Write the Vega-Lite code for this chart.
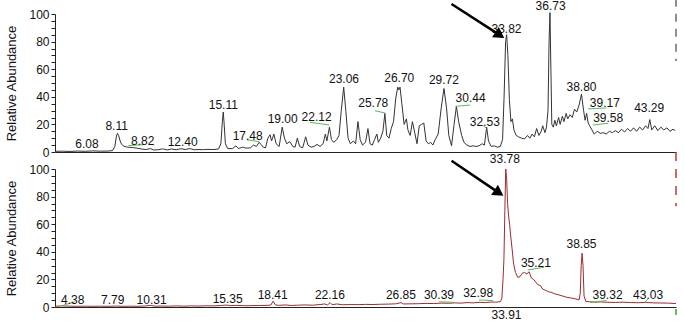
{
  "$schema": "https://vega.github.io/schema/vega-lite/v6.json",
  "padding": {"left": 5, "top": -2, "right": 5, "bottom": 5},
  "spacing": 17,
  "bounds": "flush",
  "config": {
    "view": {"stroke": null},
    "font": "Liberation Sans",
    "text": {"font": "Liberation Sans"}
  },
  "datasets": {
    "trace": [
      {"panel":"A","t":4.0,"v":0.5},{"panel":"A","t":4.5,"v":0.6},{"panel":"A","t":5.0,"v":0.4},{"panel":"A","t":5.5,"v":0.7},{"panel":"A","t":6.0,"v":0.5},{"panel":"A","t":6.5,"v":0.8},{"panel":"A","t":7.0,"v":0.6},{"panel":"A","t":7.5,"v":0.7},{"panel":"A","t":7.8,"v":1.0},{"panel":"A","t":7.95,"v":4},{"panel":"A","t":8.05,"v":11},{"panel":"A","t":8.12,"v":13.5},{"panel":"A","t":8.2,"v":12},{"panel":"A","t":8.3,"v":8},{"panel":"A","t":8.4,"v":5.5},{"panel":"A","t":8.55,"v":4.2},{"panel":"A","t":8.8,"v":3.5},{"panel":"A","t":9.1,"v":3.2},{"panel":"A","t":9.4,"v":2.8},{"panel":"A","t":9.7,"v":2.2},{"panel":"A","t":10.0,"v":1.8},{"panel":"A","t":10.3,"v":2.5},{"panel":"A","t":10.5,"v":1.5},{"panel":"A","t":10.8,"v":1.6},{"panel":"A","t":11.1,"v":2.3},{"panel":"A","t":11.4,"v":1.5},{"panel":"A","t":11.7,"v":2.2},{"panel":"A","t":12.0,"v":1.6},{"panel":"A","t":12.3,"v":2.4},{"panel":"A","t":12.6,"v":1.8},{"panel":"A","t":12.9,"v":2.5},{"panel":"A","t":13.2,"v":1.6},{"panel":"A","t":13.5,"v":1.8},{"panel":"A","t":13.8,"v":1.7},{"panel":"A","t":14.1,"v":1.9},{"panel":"A","t":14.5,"v":1.8},{"panel":"A","t":14.8,"v":2.2},{"panel":"A","t":14.95,"v":6},{"panel":"A","t":15.05,"v":22},{"panel":"A","t":15.11,"v":29},{"panel":"A","t":15.17,"v":20},{"panel":"A","t":15.25,"v":6},{"panel":"A","t":15.4,"v":2.5},{"panel":"A","t":15.7,"v":2.4},{"panel":"A","t":15.95,"v":4.5},{"panel":"A","t":16.1,"v":2.5},{"panel":"A","t":16.4,"v":3.5},{"panel":"A","t":16.6,"v":2.8},{"panel":"A","t":16.9,"v":3.0},{"panel":"A","t":17.1,"v":5.0},{"panel":"A","t":17.3,"v":4.0},{"panel":"A","t":17.48,"v":7.0},{"panel":"A","t":17.6,"v":5.5},{"panel":"A","t":17.75,"v":3.5},{"panel":"A","t":17.9,"v":3.0},{"panel":"A","t":18.05,"v":10},{"panel":"A","t":18.2,"v":12.5},{"panel":"A","t":18.3,"v":8},{"panel":"A","t":18.45,"v":13},{"panel":"A","t":18.6,"v":6},{"panel":"A","t":18.8,"v":4},{"panel":"A","t":19.0,"v":18},{"panel":"A","t":19.15,"v":10},{"panel":"A","t":19.3,"v":6},{"panel":"A","t":19.5,"v":7.5},{"panel":"A","t":19.7,"v":4},{"panel":"A","t":19.85,"v":3.5},{"panel":"A","t":20.0,"v":10},{"panel":"A","t":20.15,"v":4},{"panel":"A","t":20.35,"v":3},{"panel":"A","t":20.55,"v":11},{"panel":"A","t":20.7,"v":5},{"panel":"A","t":20.9,"v":3.5},{"panel":"A","t":21.1,"v":4},{"panel":"A","t":21.3,"v":5.5},{"panel":"A","t":21.5,"v":4},{"panel":"A","t":21.7,"v":6},{"panel":"A","t":21.85,"v":13},{"panel":"A","t":21.95,"v":8},{"panel":"A","t":22.12,"v":18},{"panel":"A","t":22.25,"v":9},{"panel":"A","t":22.4,"v":7},{"panel":"A","t":22.6,"v":9},{"panel":"A","t":22.75,"v":12},{"panel":"A","t":22.9,"v":30},{"panel":"A","t":23.06,"v":47},{"panel":"A","t":23.2,"v":30},{"panel":"A","t":23.35,"v":10},{"panel":"A","t":23.5,"v":6},{"panel":"A","t":23.7,"v":8},{"panel":"A","t":23.85,"v":6},{"panel":"A","t":24.0,"v":22},{"panel":"A","t":24.15,"v":9},{"panel":"A","t":24.3,"v":5},{"panel":"A","t":24.5,"v":7},{"panel":"A","t":24.66,"v":17},{"panel":"A","t":24.8,"v":6},{"panel":"A","t":24.95,"v":5},{"panel":"A","t":25.1,"v":9},{"panel":"A","t":25.25,"v":13},{"panel":"A","t":25.35,"v":7},{"panel":"A","t":25.5,"v":10},{"panel":"A","t":25.65,"v":15},{"panel":"A","t":25.78,"v":28},{"panel":"A","t":25.9,"v":12},{"panel":"A","t":26.05,"v":10},{"panel":"A","t":26.2,"v":17},{"panel":"A","t":26.35,"v":22},{"panel":"A","t":26.5,"v":39},{"panel":"A","t":26.63,"v":47},{"panel":"A","t":26.7,"v":45},{"panel":"A","t":26.78,"v":47},{"panel":"A","t":26.9,"v":35},{"panel":"A","t":27.05,"v":20},{"panel":"A","t":27.2,"v":24},{"panel":"A","t":27.3,"v":16},{"panel":"A","t":27.45,"v":12},{"panel":"A","t":27.6,"v":22},{"panel":"A","t":27.75,"v":14},{"panel":"A","t":27.9,"v":6},{"panel":"A","t":28.05,"v":19},{"panel":"A","t":28.2,"v":20},{"panel":"A","t":28.35,"v":21},{"panel":"A","t":28.5,"v":8},{"panel":"A","t":28.65,"v":6},{"panel":"A","t":28.8,"v":7},{"panel":"A","t":28.95,"v":5},{"panel":"A","t":29.1,"v":9},{"panel":"A","t":29.3,"v":13},{"panel":"A","t":29.5,"v":32},{"panel":"A","t":29.68,"v":46},{"panel":"A","t":29.85,"v":32},{"panel":"A","t":30.0,"v":12},{"panel":"A","t":30.18,"v":4.5},{"panel":"A","t":30.35,"v":20},{"panel":"A","t":30.5,"v":33},{"panel":"A","t":30.65,"v":22},{"panel":"A","t":30.85,"v":12},{"panel":"A","t":31.0,"v":7},{"panel":"A","t":31.2,"v":5},{"panel":"A","t":31.4,"v":4},{"panel":"A","t":31.6,"v":4.5},{"panel":"A","t":31.8,"v":4},{"panel":"A","t":32.0,"v":4.5},{"panel":"A","t":32.2,"v":6},{"panel":"A","t":32.35,"v":5},{"panel":"A","t":32.5,"v":18},{"panel":"A","t":32.62,"v":8},{"panel":"A","t":32.8,"v":4},{"panel":"A","t":33.0,"v":4.5},{"panel":"A","t":33.2,"v":3.5},{"panel":"A","t":33.4,"v":4},{"panel":"A","t":33.55,"v":9},{"panel":"A","t":33.65,"v":40},{"panel":"A","t":33.75,"v":80},{"panel":"A","t":33.82,"v":85},{"panel":"A","t":33.9,"v":70},{"panel":"A","t":34.0,"v":38},{"panel":"A","t":34.1,"v":22},{"panel":"A","t":34.2,"v":24},{"panel":"A","t":34.3,"v":16},{"panel":"A","t":34.45,"v":12},{"panel":"A","t":34.6,"v":11},{"panel":"A","t":34.8,"v":10},{"panel":"A","t":35.0,"v":9.5},{"panel":"A","t":35.2,"v":12},{"panel":"A","t":35.35,"v":10},{"panel":"A","t":35.5,"v":13},{"panel":"A","t":35.65,"v":11},{"panel":"A","t":35.8,"v":17},{"panel":"A","t":35.95,"v":12},{"panel":"A","t":36.1,"v":15},{"panel":"A","t":36.2,"v":19},{"panel":"A","t":36.35,"v":14},{"panel":"A","t":36.45,"v":18},{"panel":"A","t":36.55,"v":30},{"panel":"A","t":36.62,"v":80},{"panel":"A","t":36.68,"v":101},{"panel":"A","t":36.74,"v":60},{"panel":"A","t":36.8,"v":20},{"panel":"A","t":36.9,"v":18},{"panel":"A","t":37.0,"v":23},{"panel":"A","t":37.1,"v":19},{"panel":"A","t":37.25,"v":25},{"panel":"A","t":37.35,"v":20},{"panel":"A","t":37.5,"v":26},{"panel":"A","t":37.6,"v":22},{"panel":"A","t":37.75,"v":28},{"panel":"A","t":37.85,"v":24},{"panel":"A","t":38.0,"v":27},{"panel":"A","t":38.15,"v":25},{"panel":"A","t":38.3,"v":31},{"panel":"A","t":38.45,"v":29},{"panel":"A","t":38.6,"v":34},{"panel":"A","t":38.76,"v":42},{"panel":"A","t":38.9,"v":30},{"panel":"A","t":39.0,"v":23},{"panel":"A","t":39.1,"v":28},{"panel":"A","t":39.2,"v":21},{"panel":"A","t":39.3,"v":19},{"panel":"A","t":39.45,"v":16},{"panel":"A","t":39.6,"v":13},{"panel":"A","t":39.8,"v":15},{"panel":"A","t":40.0,"v":13.5},{"panel":"A","t":40.2,"v":14},{"panel":"A","t":40.4,"v":13},{"panel":"A","t":40.6,"v":15},{"panel":"A","t":40.8,"v":14},{"panel":"A","t":41.0,"v":15.5},{"panel":"A","t":41.2,"v":14},{"panel":"A","t":41.4,"v":16.5},{"panel":"A","t":41.6,"v":14.5},{"panel":"A","t":41.8,"v":17},{"panel":"A","t":42.0,"v":15},{"panel":"A","t":42.2,"v":17.5},{"panel":"A","t":42.4,"v":15},{"panel":"A","t":42.6,"v":18},{"panel":"A","t":42.8,"v":16},{"panel":"A","t":43.0,"v":19},{"panel":"A","t":43.15,"v":17},{"panel":"A","t":43.27,"v":23.5},{"panel":"A","t":43.4,"v":16},{"panel":"A","t":43.6,"v":19},{"panel":"A","t":43.8,"v":15.5},{"panel":"A","t":44.0,"v":18},{"panel":"A","t":44.2,"v":16},{"panel":"A","t":44.4,"v":17.5},{"panel":"A","t":44.6,"v":15},{"panel":"A","t":44.8,"v":16.5},{"panel":"A","t":44.95,"v":15.5},
      {"panel":"B","t":4.0,"v":0.5},{"panel":"B","t":4.4,"v":0.8},{"panel":"B","t":5.0,"v":0.6},{"panel":"B","t":5.5,"v":0.5},{"panel":"B","t":6.0,"v":0.6},{"panel":"B","t":6.5,"v":0.5},{"panel":"B","t":7.0,"v":0.6},{"panel":"B","t":7.5,"v":0.5},{"panel":"B","t":8.0,"v":0.7},{"panel":"B","t":8.5,"v":0.5},{"panel":"B","t":9.0,"v":0.6},{"panel":"B","t":9.5,"v":0.5},{"panel":"B","t":10.0,"v":0.8},{"panel":"B","t":10.3,"v":1.2},{"panel":"B","t":10.6,"v":0.6},{"panel":"B","t":11.0,"v":0.7},{"panel":"B","t":11.5,"v":0.6},{"panel":"B","t":12.0,"v":0.8},{"panel":"B","t":12.5,"v":0.6},{"panel":"B","t":13.0,"v":0.8},{"panel":"B","t":13.5,"v":0.7},{"panel":"B","t":14.0,"v":0.9},{"panel":"B","t":14.5,"v":0.8},{"panel":"B","t":15.0,"v":1.1},{"panel":"B","t":15.3,"v":1.4},{"panel":"B","t":15.6,"v":1.0},{"panel":"B","t":16.0,"v":1.2},{"panel":"B","t":16.5,"v":0.9},{"panel":"B","t":17.0,"v":1.0},{"panel":"B","t":17.5,"v":1.1},{"panel":"B","t":18.0,"v":1.2},{"panel":"B","t":18.25,"v":1.4},{"panel":"B","t":18.4,"v":4.2},{"panel":"B","t":18.55,"v":1.5},{"panel":"B","t":18.8,"v":1.2},{"panel":"B","t":19.2,"v":1.5},{"panel":"B","t":19.6,"v":1.1},{"panel":"B","t":20.0,"v":1.3},{"panel":"B","t":20.5,"v":1.5},{"panel":"B","t":21.0,"v":1.3},{"panel":"B","t":21.5,"v":1.8},{"panel":"B","t":21.8,"v":2.2},{"panel":"B","t":22.0,"v":1.5},{"panel":"B","t":22.16,"v":3.2},{"panel":"B","t":22.3,"v":1.6},{"panel":"B","t":22.6,"v":2.2},{"panel":"B","t":23.0,"v":1.6},{"panel":"B","t":23.5,"v":1.8},{"panel":"B","t":24.0,"v":1.7},{"panel":"B","t":24.5,"v":1.9},{"panel":"B","t":25.0,"v":1.8},{"panel":"B","t":25.5,"v":2.0},{"panel":"B","t":26.0,"v":2.1},{"panel":"B","t":26.5,"v":2.3},{"panel":"B","t":26.85,"v":3.2},{"panel":"B","t":27.0,"v":2.2},{"panel":"B","t":27.5,"v":2.3},{"panel":"B","t":28.0,"v":2.4},{"panel":"B","t":28.5,"v":2.6},{"panel":"B","t":29.0,"v":2.5},{"panel":"B","t":29.5,"v":2.8},{"panel":"B","t":30.0,"v":2.7},{"panel":"B","t":30.4,"v":3.0},{"panel":"B","t":30.8,"v":2.8},{"panel":"B","t":31.2,"v":3.2},{"panel":"B","t":31.6,"v":3.0},{"panel":"B","t":32.0,"v":3.4},{"panel":"B","t":32.4,"v":3.2},{"panel":"B","t":32.8,"v":3.6},{"panel":"B","t":33.1,"v":3.5},{"panel":"B","t":33.4,"v":3.8},{"panel":"B","t":33.5,"v":6},{"panel":"B","t":33.58,"v":20},{"panel":"B","t":33.64,"v":35},{"panel":"B","t":33.7,"v":70},{"panel":"B","t":33.76,"v":100},{"panel":"B","t":33.82,"v":93},{"panel":"B","t":33.88,"v":75},{"panel":"B","t":33.95,"v":66},{"panel":"B","t":34.02,"v":59},{"panel":"B","t":34.1,"v":50},{"panel":"B","t":34.18,"v":42},{"panel":"B","t":34.27,"v":32},{"panel":"B","t":34.4,"v":25},{"panel":"B","t":34.55,"v":21.5},{"panel":"B","t":34.7,"v":22},{"panel":"B","t":34.85,"v":24.5},{"panel":"B","t":35.0,"v":25},{"panel":"B","t":35.15,"v":24},{"panel":"B","t":35.3,"v":25.5},{"panel":"B","t":35.45,"v":21},{"panel":"B","t":35.6,"v":20},{"panel":"B","t":35.75,"v":18},{"panel":"B","t":35.9,"v":16},{"panel":"B","t":36.05,"v":15.5},{"panel":"B","t":36.2,"v":13},{"panel":"B","t":36.4,"v":12},{"panel":"B","t":36.6,"v":11},{"panel":"B","t":36.8,"v":10.5},{"panel":"B","t":37.0,"v":9.5},{"panel":"B","t":37.2,"v":9},{"panel":"B","t":37.5,"v":8},{"panel":"B","t":37.8,"v":7},{"panel":"B","t":38.1,"v":6.5},{"panel":"B","t":38.4,"v":5.8},{"panel":"B","t":38.6,"v":5.2},{"panel":"B","t":38.68,"v":10},{"panel":"B","t":38.74,"v":30},{"panel":"B","t":38.8,"v":39},{"panel":"B","t":38.86,"v":30},{"panel":"B","t":38.93,"v":8},{"panel":"B","t":39.05,"v":4},{"panel":"B","t":39.3,"v":3.8},{"panel":"B","t":39.6,"v":3.5},{"panel":"B","t":40.0,"v":3.7},{"panel":"B","t":40.5,"v":3.4},{"panel":"B","t":41.0,"v":3.3},{"panel":"B","t":41.5,"v":3.5},{"panel":"B","t":42.0,"v":3.2},{"panel":"B","t":42.5,"v":3.1},{"panel":"B","t":43.0,"v":3.3},{"panel":"B","t":43.5,"v":3.0},{"panel":"B","t":44.0,"v":2.9},{"panel":"B","t":44.5,"v":2.8},{"panel":"B","t":45.0,"v":2.5}
    ],
    "labels": [
      {"panel":"A","label":"6.08","t":6.11,"v":2.9},
      {"panel":"A","label":"8.11","t":8.07,"v":16.2},
      {"panel":"A","label":"8.82","t":9.79,"v":5.3},
      {"panel":"A","label":"12.40","t":12.43,"v":4.3},
      {"panel":"A","label":"15.11","t":15.11,"v":31.2},
      {"panel":"A","label":"17.48","t":16.72,"v":8.9},
      {"panel":"A","label":"19.00","t":19.03,"v":21},
      {"panel":"A","label":"22.12","t":21.27,"v":22.2},
      {"panel":"A","label":"23.06","t":23.08,"v":50},
      {"panel":"A","label":"25.78","t":25.01,"v":32.4},
      {"panel":"A","label":"26.70","t":26.73,"v":50.5},
      {"panel":"A","label":"29.72","t":29.68,"v":49.3},
      {"panel":"A","label":"30.44","t":31.44,"v":36},
      {"panel":"A","label":"32.53","t":32.38,"v":19},
      {"panel":"A","label":"33.82","t":33.81,"v":86},
      {"panel":"A","label":"36.73","t":36.72,"v":103},
      {"panel":"A","label":"38.80","t":38.76,"v":44.4},
      {"panel":"A","label":"39.17","t":40.3,"v":32.4},
      {"panel":"A","label":"39.58","t":40.52,"v":22},
      {"panel":"A","label":"43.29","t":43.23,"v":28.8},
      {"panel":"B","label":"4.38","t":5.17,"v":2.2},
      {"panel":"B","label":"7.79","t":7.81,"v":2.2},
      {"panel":"B","label":"10.31","t":10.38,"v":2.2},
      {"panel":"B","label":"15.35","t":15.4,"v":2.7},
      {"panel":"B","label":"18.41","t":18.37,"v":5.8},
      {"panel":"B","label":"22.16","t":22.15,"v":5.8},
      {"panel":"B","label":"26.85","t":26.84,"v":5.8},
      {"panel":"B","label":"30.39","t":29.35,"v":5.8},
      {"panel":"B","label":"32.98","t":31.94,"v":7},
      {"panel":"B","label":"33.78","t":33.7,"v":104},
      {"panel":"B","label":"35.21","t":35.75,"v":28.7},
      {"panel":"B","label":"38.85","t":38.76,"v":42.5},
      {"panel":"B","label":"39.32","t":40.48,"v":5.8},
      {"panel":"B","label":"43.03","t":43.16,"v":5.8},
      {"panel":"B","label":"33.91","t":33.81,"v":-8.7}
    ],
    "greens": [
      {"panel":"A","t":8.84,"v":4.6,"t2":9.83,"v2":5.3},
      {"panel":"A","t":16.65,"v":8.9,"t2":17.49,"v2":7.5},
      {"panel":"A","t":20.83,"v":21.5,"t2":22.1,"v2":19.6},
      {"panel":"A","t":25.12,"v":29.9,"t2":25.78,"v2":28.3},
      {"panel":"A","t":30.45,"v":33.1,"t2":31.4,"v2":34},
      {"panel":"A","t":32.27,"v":19,"t2":32.49,"v2":17.2},
      {"panel":"A","t":39.2,"v":31.2,"t2":40.41,"v2":31.9},
      {"panel":"A","t":39.53,"v":19.6,"t2":40.52,"v2":20.8},
      {"panel":"B","t":4.44,"v":0.9,"t2":5.32,"v2":3.8},
      {"panel":"B","t":29.35,"v":3.8,"t2":30.36,"v2":3.4},
      {"panel":"B","t":31.99,"v":5.1,"t2":32.93,"v2":4.6},
      {"panel":"B","t":35.2,"v":26.8,"t2":36.3,"v2":28.8},
      {"panel":"B","t":39.31,"v":3.4,"t2":40.41,"v2":4.6},
      {"panel":"B","t":42.94,"v":3.4,"t2":43.16,"v2":5.8}
    ],
    "arrows": [
      {"panel":"A","t":30.18,"v":107.2,"t2":33.37,"v2":84.7},
      {"panel":"B","t":30.18,"v":106,"t2":33.31,"v2":82.7}
    ],
    "markers": [
      {"panel":"A","kind":"gray","t":45,"v":111,"t2":45,"v2":66},
      {"panel":"B","kind":"red","t":45,"v":112.3,"t2":45,"v2":73},
      {"panel":"B","kind":"green","t":45,"v":-1.5,"t2":45,"v2":-5.8}
    ]
  },
  "vconcat": [
    {
      "width": 621,
      "height": 138,
      "encoding": {
        "x": {"field": "t", "type": "quantitative", "scale": {"domain": [4, 45], "nice": false, "zero": false},
              "axis": {"labels": false, "ticks": false, "grid": false, "title": null, "domainColor": "#222", "domainWidth": 1.2}},
        "y": {"field": "v", "type": "quantitative", "scale": {"domain": [0, 100], "nice": false},
              "axis": {"values": [0,5,10,15,20,25,30,35,40,45,50,55,60,65,70,75,80,85,90,95,100],
                       "labelExpr": "datum.value % 20 === 0 ? datum.label : ''", "labelOverlap": false,
                       "tickSize": 4, "tickColor": "#222", "domainColor": "#222", "labelFontSize": 12, "labelFont": "Liberation Sans",
                       "labelColor": "#111", "labelPadding": 2, "grid": false, "title": "Relative Abundance",
                       "titleFontSize": 13, "titleFont": "Liberation Sans", "titleFontWeight": "normal", "titleColor": "#111", "titlePadding": 10}}
      },
      "layer": [
        {"data": {"name": "trace"}, "transform": [{"filter": "datum.panel === 'A'"}],
         "mark": {"type": "line", "color": "#333333", "strokeWidth": 1}},
        {"data": {"name": "greens"}, "transform": [{"filter": "datum.panel === 'A'"}],
         "mark": {"type": "rule", "color": "#5cb85c", "strokeWidth": 1},
         "encoding": {"x2": {"field": "t2"}, "y2": {"field": "v2"}}},
        {"data": {"name": "labels"}, "transform": [{"filter": "datum.panel === 'A'"}],
         "mark": {"type": "text", "fontSize": 12, "font": "Liberation Sans", "color": "#111", "align": "center", "baseline": "alphabetic"},
         "encoding": {"text": {"field": "label"}}},
        {"data": {"name": "arrows"}, "transform": [{"filter": "datum.panel === 'A'"}],
         "mark": {"type": "rule", "color": "#000", "strokeWidth": 2.5},
         "encoding": {"x2": {"field": "t2"}, "y2": {"field": "v2"}}},
        {"data": {"name": "arrows"}, "transform": [{"filter": "datum.panel === 'A'"}],
         "mark": {"type": "point", "shape": "triangle-right", "filled": true, "color": "#000", "size": 150, "angle": 33, "opacity": 1},
         "encoding": {"x": {"field": "t2", "type": "quantitative"}, "y": {"field": "v2", "type": "quantitative"}}},
        {"data": {"name": "markers"}, "transform": [{"filter": "datum.kind === 'gray'"}],
         "mark": {"type": "rule", "color": "#6b6b5e", "strokeWidth": 1.5, "strokeDash": [8, 7]},
         "encoding": {"x2": {"field": "t2"}, "y2": {"field": "v2"}}}
      ]
    },
    {
      "width": 621,
      "height": 138,
      "encoding": {
        "x": {"field": "t", "type": "quantitative", "scale": {"domain": [4, 45], "nice": false, "zero": false},
              "axis": {"labels": false, "ticks": false, "grid": false, "title": null, "domainColor": "#222", "domainWidth": 1.2}},
        "y": {"field": "v", "type": "quantitative", "scale": {"domain": [0, 100], "nice": false},
              "axis": {"values": [0,5,10,15,20,25,30,35,40,45,50,55,60,65,70,75,80,85,90,95,100],
                       "labelExpr": "datum.value % 20 === 0 ? datum.label : ''", "labelOverlap": false,
                       "tickSize": 4, "tickColor": "#222", "domainColor": "#222", "labelFontSize": 12, "labelFont": "Liberation Sans",
                       "labelColor": "#111", "labelPadding": 2, "grid": false, "title": "Relative Abundance",
                       "titleFontSize": 13, "titleFont": "Liberation Sans", "titleFontWeight": "normal", "titleColor": "#111", "titlePadding": 10}}
      },
      "layer": [
        {"data": {"name": "trace"}, "transform": [{"filter": "datum.panel === 'B'"}],
         "mark": {"type": "line", "color": "#9a2b33", "strokeWidth": 1}},
        {"data": {"name": "greens"}, "transform": [{"filter": "datum.panel === 'B'"}],
         "mark": {"type": "rule", "color": "#5cb85c", "strokeWidth": 1},
         "encoding": {"x2": {"field": "t2"}, "y2": {"field": "v2"}}},
        {"data": {"name": "labels"}, "transform": [{"filter": "datum.panel === 'B'"}],
         "mark": {"type": "text", "fontSize": 12, "font": "Liberation Sans", "color": "#111", "align": "center", "baseline": "alphabetic"},
         "encoding": {"text": {"field": "label"}}},
        {"data": {"name": "arrows"}, "transform": [{"filter": "datum.panel === 'B'"}],
         "mark": {"type": "rule", "color": "#000", "strokeWidth": 2.5},
         "encoding": {"x2": {"field": "t2"}, "y2": {"field": "v2"}}},
        {"data": {"name": "arrows"}, "transform": [{"filter": "datum.panel === 'B'"}],
         "mark": {"type": "point", "shape": "triangle-right", "filled": true, "color": "#000", "size": 150, "angle": 34, "opacity": 1},
         "encoding": {"x": {"field": "t2", "type": "quantitative"}, "y": {"field": "v2", "type": "quantitative"}}},
        {"data": {"name": "markers"}, "transform": [{"filter": "datum.kind === 'red'"}],
         "mark": {"type": "rule", "color": "#c0392b", "strokeWidth": 1.5, "strokeDash": [9, 8]},
         "encoding": {"x2": {"field": "t2"}, "y2": {"field": "v2"}}},
        {"data": {"name": "markers"}, "transform": [{"filter": "datum.kind === 'green'"}],
         "mark": {"type": "rule", "color": "#3c9a3c", "strokeWidth": 1.5},
         "encoding": {"x2": {"field": "t2"}, "y2": {"field": "v2"}}}
      ]
    }
  ]
}
